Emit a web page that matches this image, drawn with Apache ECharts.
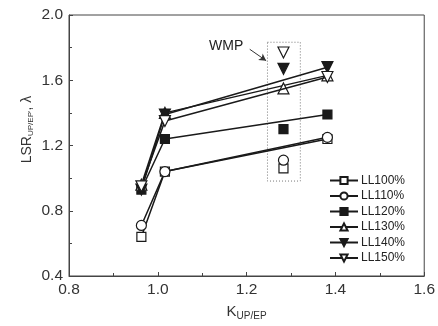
<!DOCTYPE html>
<html><head><meta charset="utf-8">
<script src="https://cdn.jsdelivr.net/npm/echarts@6/dist/echarts.min.js"></script>
<style>html,body{margin:0;padding:0;background:#fff}#c{width:438px;height:326px}</style>
</head><body><div id="c"></div>
<script>
const kLine = [0.963, 1.016, 1.382];
const kWmp = 1.283;
const seriesNames = ['LL100%', 'LL110%', 'LL120%', 'LL130%', 'LL140%', 'LL150%'];
const ll100 = [0.64, 1.04, 1.24];
const ll110 = [0.71, 1.04, 1.25];
const ll120 = [0.93, 1.24, 1.39];
const ll130 = [0.96, 1.40, 1.63];
const ll140 = [0.93, 1.39, 1.68];
const ll150 = [0.95, 1.35, 1.62];
const wmpValues = [1.06, 1.11, 1.30, 1.55, 1.67, 1.77];
const xTicks = [0.8, 1.0, 1.2, 1.4, 1.6];
const yTicks = [0.4, 0.8, 1.2, 1.6, 2.0];
const wmpBoxX = [1.247, 1.321];
const wmpBoxY = [0.982, 1.833];
const wmpArrowFrom = [1.207, 1.79];
const wmpArrowTo = [1.244, 1.72];

const lineVals = [ll100, ll110, ll120, ll130, ll140, ll150];
const symbols = ['rect', 'circle', 'rect', 'triangle', 'triangle', 'triangle'];
const rotates = [0, 0, 0, 0, 180, 180];
const filled = [false, false, true, false, true, false];
const sizes = [9, 10, 9, 11, 11, 11];
const ink = '#1a1a1a';
const font = 'Liberation Sans, Arial';

const series = [];
seriesNames.forEach((n, i) => {
  const st = {
    color: filled[i] ? ink : '#fff',
    borderColor: ink,
    borderWidth: 1.2,
    opacity: 1
  };
  series.push({
    name: n, type: 'line',
    data: kLine.map((k, j) => [k, lineVals[i][j]]),
    symbol: symbols[i], symbolRotate: rotates[i], symbolSize: sizes[i],
    showAllSymbol: true,
    lineStyle: { color: ink, width: 1.5 },
    itemStyle: st, z: 3 + i
  });
  series.push({
    name: n, type: 'scatter',
    data: [[kWmp, wmpValues[i]]],
    symbol: symbols[i], symbolRotate: rotates[i], symbolSize: sizes[i],
    itemStyle: st, z: 3 + i
  });
});
series.push({
  type: 'line', data: [], silent: true,
  markArea: {
    silent: true,
    itemStyle: { color: 'rgba(0,0,0,0)', borderColor: '#777', borderWidth: 1, borderType: [1, 2] },
    data: [[{ coord: [wmpBoxX[0], wmpBoxY[1]] }, { coord: [wmpBoxX[1], wmpBoxY[0]] }]]
  },
  markLine: {
    silent: true, symbol: ['none', 'arrow'], symbolSize: [6, 7],
    label: { show: false },
    lineStyle: { color: '#333', width: 1, type: 'solid' },
    data: [[{ coord: wmpArrowFrom }, { coord: wmpArrowTo }]]
  }
});

const chart = echarts.init(document.getElementById('c'), null, { renderer: 'canvas' });
chart.setOption({
  animation: false,
  backgroundColor: '#fff',
  grid: { left: 69, right: 13, top: 15, bottom: 48, show: true, borderColor: '#444', borderWidth: 1, backgroundColor: 'transparent' },
  legend: {
    orient: 'vertical', left: 324, top: 169,
    itemWidth: 28, itemHeight: 9, itemGap: 2.5,
    data: seriesNames,
    textStyle: { fontFamily: font, fontSize: 12, color: '#222', padding: [0, 0, 0, -2], lineHeight: 13 },
    selectedMode: false
  },
  xAxis: {
    type: 'value', min: xTicks[0], max: xTicks[xTicks.length - 1], interval: 0.2,
    axisLine: { lineStyle: { color: '#444', width: 1 } },
    axisTick: { inside: true, length: 4, lineStyle: { color: '#444' } },
    minorTick: { show: true, splitNumber: 2, length: 3, lineStyle: { color: '#444' } },
    splitLine: { show: false },
    axisLabel: { margin: 6, fontSize: 15.5, color: '#333', fontFamily: font, formatter: v => v.toFixed(1) },
    name: '{m|K}{s|UP/EP}', nameLocation: 'middle', nameGap: 27, nameMoveOverlap: false,
    nameTextStyle: { rich: {
      m: { fontSize: 15, color: '#333', fontFamily: font },
      s: { fontSize: 10, color: '#333', fontFamily: font, verticalAlign: 'bottom', padding: [8, 0, 0, 0] }
    } }
  },
  yAxis: {
    type: 'value', min: yTicks[0], max: yTicks[yTicks.length - 1], interval: 0.4,
    axisLine: { show: true, lineStyle: { color: '#444', width: 1 } },
    axisTick: { inside: true, length: 4, lineStyle: { color: '#444' } },
    minorTick: { show: true, splitNumber: 2, length: 3, lineStyle: { color: '#444' } },
    splitLine: { show: false },
    axisLabel: { margin: 6, fontSize: 15.5, color: '#333', fontFamily: font, formatter: v => v.toFixed(1) },
    name: '{m|LSR}{s|UP/EP\'}{m|, λ}', nameLocation: 'middle', nameGap: 34, nameRotate: 90, nameMoveOverlap: false,
    nameTextStyle: { padding: [0, 0, 0, 32], rich: {
      m: { fontSize: 14, color: '#333', fontFamily: font },
      s: { fontSize: 8, color: '#333', fontFamily: font, verticalAlign: 'bottom', padding: [7, 0, 0, 0] }
    } }
  },
  graphic: [{
    type: 'text', left: 209, top: 39,
    style: { text: 'WMP', fontSize: 14, fontFamily: font, fill: '#222' }
  }],
  series: series
});
</script></body></html>
